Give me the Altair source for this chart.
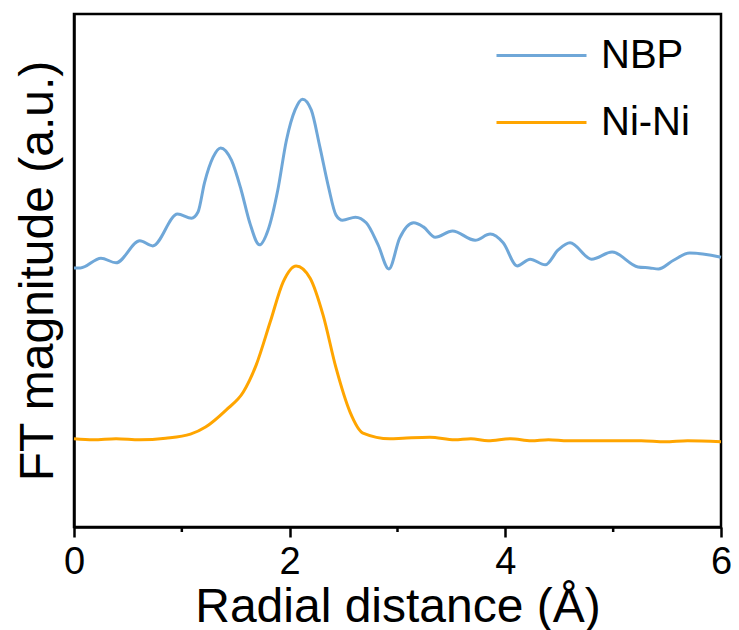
import altair as alt
import pandas as pd

# NBP curve (radial distance in Å, FT magnitude in a.u.)
nbp_r = [0.00, 0.06, 0.25, 0.39, 0.61, 0.73, 0.96, 1.09, 1.15, 1.21, 1.29, 1.36,
         1.46, 1.55, 1.63, 1.72, 1.80, 1.89, 1.97, 2.05, 2.12, 2.20, 2.28, 2.36,
         2.43, 2.49, 2.61, 2.71, 2.82, 2.92, 3.02, 3.15, 3.24, 3.35, 3.51, 3.72,
         3.86, 3.98, 4.11, 4.23, 4.37, 4.49, 4.60, 4.80, 4.99, 5.23, 5.34, 5.42,
         5.56, 5.71, 6.00]
nbp_ft = [5.05, 5.05, 5.24, 5.15, 5.58, 5.48, 6.10, 6.02, 6.14, 6.71, 7.21, 7.39,
          7.15, 6.57, 5.93, 5.50, 5.79, 6.57, 7.54, 8.13, 8.34, 8.13, 7.41, 6.63,
          6.08, 5.98, 6.04, 5.93, 5.50, 5.03, 5.63, 5.93, 5.85, 5.65, 5.77, 5.59,
          5.71, 5.54, 5.09, 5.22, 5.11, 5.40, 5.54, 5.22, 5.36, 5.07, 5.05, 5.03,
          5.20, 5.34, 5.26]

# Ni-Ni curve
nini_r = [0.00, 0.18, 0.39, 0.61, 0.85, 1.08, 1.22, 1.41, 1.57, 1.69, 1.82, 1.94,
          2.06, 2.19, 2.31, 2.43, 2.56, 2.68, 2.93, 3.05, 3.30, 3.53, 3.68, 3.84,
          4.05, 4.24, 4.40, 4.58, 4.77, 5.02, 5.26, 5.48, 5.69, 6.00]
nini_ft = [1.72, 1.70, 1.72, 1.70, 1.73, 1.81, 1.95, 2.28, 2.63, 3.16, 4.00, 4.78,
           5.09, 4.85, 4.13, 3.10, 2.24, 1.83, 1.72, 1.73, 1.75, 1.70, 1.72, 1.68,
           1.72, 1.68, 1.70, 1.68, 1.68, 1.68, 1.68, 1.66, 1.68, 1.66]

series_names = ["NBP", "Ni-Ni"]
series_colors = ["#6fa7d8", "#ffa500"]
major_ticks = [0, 2, 4, 6]
minor_ticks = [1, 3, 5]

df = pd.concat([
    pd.DataFrame({"r": nbp_r, "ft": nbp_ft, "series": "NBP", "order": range(len(nbp_r))}),
    pd.DataFrame({"r": nini_r, "ft": nini_ft, "series": "Ni-Ni", "order": range(len(nini_r))}),
])
minor_df = pd.DataFrame({"r": minor_ticks})

W, H = 647, 513
FONT = "Liberation Sans"

x_scale = alt.Scale(domain=[0, 6], nice=False, zero=False)

lines = alt.Chart(df).mark_line(strokeWidth=3, interpolate="monotone").encode(
    x=alt.X("r:Q", scale=x_scale,
            axis=alt.Axis(values=major_ticks, title="Radial distance (Å)", format="d",
                          tickSize=10, labelPadding=6, titlePadding=2, grid=False,
                          labelFlush=False)),
    y=alt.Y("ft:Q", scale=alt.Scale(domain=[0, 10], nice=False),
            axis=alt.Axis(title="FT magnitude (a.u.)", labels=False, ticks=False,
                          grid=False, titlePadding=12)),
    color=alt.Color("series:N",
                    scale=alt.Scale(domain=series_names, range=series_colors),
                    legend=alt.Legend(title=None, orient="none", legendX=421, legendY=-5,
                                      symbolType="stroke", symbolSize=8100,
                                      symbolStrokeWidth=3, labelFontSize=40,
                                      labelFont=FONT, labelColor="black",
                                      labelOffset=13, rowPadding=-44, padding=0)),
    order="order:Q",
)

minor = alt.Chart(minor_df).mark_rule(color="black", strokeWidth=2.5).encode(
    x=alt.X("r:Q", scale=x_scale),
    y=alt.value(H),
    y2=alt.value(H + 5),
)

chart = alt.layer(lines, minor).properties(
    width=W, height=H,
    autosize=alt.AutoSizeParams(type="none"),
    padding={"left": 66, "top": 6, "right": 10, "bottom": 110},
).configure_view(
    stroke="black", strokeWidth=2.5
).configure_axis(
    domainColor="black", domainWidth=2.5, tickColor="black", tickWidth=2.5,
    labelFont=FONT, titleFont=FONT, labelFontSize=38, titleFontSize=48,
    labelColor="black", titleColor="black", titleFontWeight="normal",
)

chart.save("out.html", embed_options={"renderer": "svg", "actions": False})
